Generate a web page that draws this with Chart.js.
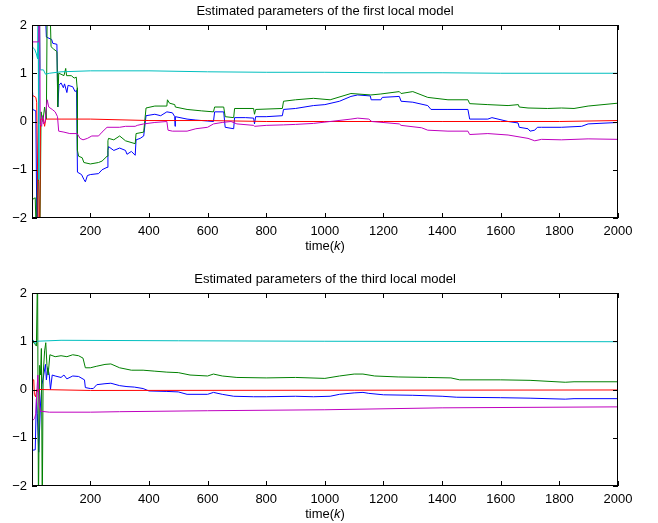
<!DOCTYPE html>
<html>
<head>
<meta charset="utf-8">
<script src="https://cdn.jsdelivr.net/npm/chart.js@4"></script>
<style>
  body { margin: 0; background: #fff; width: 658px; height: 523px; overflow: hidden; position: relative; }
  canvas { position: absolute; left: 0; }
  #top { top: 0; }
  #bottom { top: 268px; }
</style>
</head>
<body>
<canvas id="top" width="658" height="255"></canvas>
<canvas id="bottom" width="658" height="255"></canvas>
<script>
const xTicks = [200, 400, 600, 800, 1000, 1200, 1400, 1600, 1800, 2000];
const yTicks = [-2, -1, 0, 1, 2];

/* ===== first local model ===== */
const topBlueK = [1, 3, 14, 18, 22, 26, 45, 50, 68, 72, 86, 89, 93, 100, 108, 112, 120, 124, 140, 148, 153, 156, 170, 178, 183, 190, 200, 228, 240, 257, 260, 262, 280, 300, 320, 325, 340, 353, 356, 370, 382, 390, 420, 440, 461, 480, 488, 489, 490, 530, 560, 620, 624, 655, 660, 689, 692, 730, 757, 760, 764, 800, 855, 859, 900, 961, 1000, 1050, 1089, 1112, 1155, 1158, 1191, 1196, 1254, 1260, 1300, 1351, 1362, 1420, 1488, 1494, 1556, 1570, 1625, 1659, 1663, 1693, 1700, 1716, 1725, 1739, 1807, 1876, 1898, 2000];
const topBlueV = [0.6, 0.25, 0.22, -2.5, -1.0, 2.5, 2.5, 1.75, 1.7, 1.62, 1.6, 0.3, 0.75, 0.8, 0.7, 0.78, 0.6, 0.75, 0.72, 0.62, 0.65, -1.05, -1.1, -1.2, -1.25, -1.12, -1.1, -1.08, -1.0, -0.95, -0.6, -0.52, -0.6, -0.55, -0.6, -0.68, -0.62, -0.7, -0.38, -0.35, -0.3, 0.12, 0.15, 0.12, 0.2, 0.18, 0.1, -0.1, 0.1, 0.05, 0.03, 0.0, 0.2, 0.2, -0.12, -0.15, 0.08, 0.08, 0.07, -0.05, 0.1, 0.1, 0.12, 0.25, 0.27, 0.33, 0.35, 0.42, 0.52, 0.55, 0.53, 0.45, 0.45, 0.5, 0.52, 0.42, 0.4, 0.33, 0.25, 0.25, 0.25, 0.05, 0.05, 0.08, 0.0, -0.03, -0.12, -0.15, -0.2, -0.18, -0.12, -0.12, -0.12, -0.1, -0.05, -0.02];

const topGreenK = [1, 12, 16, 20, 24, 28, 32, 38, 44, 50, 53, 62, 66, 75, 86, 89, 92, 100, 110, 116, 119, 135, 145, 152, 155, 156, 160, 172, 178, 200, 228, 240, 257, 260, 262, 280, 300, 320, 353, 356, 382, 390, 420, 461, 463, 470, 488, 490, 530, 580, 620, 624, 655, 660, 689, 692, 757, 760, 764, 855, 859, 900, 961, 1018, 1089, 1157, 1191, 1254, 1260, 1300, 1351, 1420, 1488, 1494, 1556, 1625, 1660, 1663, 1693, 1760, 1807, 1850, 1898, 2000];
const topGreenV = [-1.62, -1.58, -2.5, -1.0, -1.25, -2.5, 0.2, 0.0, 0.3, 0.05, 2.5, 2.5, 1.55, 1.5, 1.45, 0.3, 1.0, 0.98, 0.95, 1.1, 0.95, 0.95, 0.9, 0.92, 0.7, -0.6, -0.72, -0.75, -0.85, -0.88, -0.85, -0.82, -0.72, -0.4, -0.35, -0.38, -0.3, -0.4, -0.46, -0.25, -0.22, 0.28, 0.32, 0.32, 0.45, 0.38, 0.35, 0.3, 0.25, 0.22, 0.2, 0.3, 0.3, 0.1, 0.08, 0.27, 0.27, 0.15, 0.25, 0.27, 0.42, 0.45, 0.48, 0.45, 0.58, 0.55, 0.57, 0.62, 0.58, 0.62, 0.5, 0.45, 0.45, 0.37, 0.35, 0.33, 0.35, 0.3, 0.28, 0.27, 0.28, 0.27, 0.32, 0.38];

const topRedK = [1, 14, 17, 20, 23, 27, 30, 40, 44, 48, 100, 200, 400, 600, 800, 1000, 1200, 1400, 1600, 1800, 2000];
const topRedV = [0.55, 0.5, 0.4, -1.0, -2.5, -2.5, 0.05, 0.05, -0.1, 0.05, 0.05, 0.05, 0.02, 0.02, 0.0, 0.0, 0.0, 0.0, 0.0, 0.0, 0.02];

const topCyanK = [1, 10, 16, 20, 22, 24, 26, 29, 40, 47, 60, 100, 200, 400, 600, 800, 1000, 1200, 1400, 1600, 2000];
const topCyanV = [1.55, 1.5, 1.4, 1.3, 2.5, -1.2, 2.5, 1.07, 1.07, 0.98, 1.0, 1.03, 1.05, 1.05, 1.03, 1.02, 1.02, 1.01, 1.01, 1.0, 1.0];

const topMagentaK = [1, 3, 22, 24, 27, 29, 34, 37, 40, 46, 50, 53, 58, 70, 80, 88, 92, 110, 130, 155, 165, 175, 190, 205, 228, 240, 257, 300, 320, 353, 360, 382, 420, 461, 465, 480, 530, 560, 600, 620, 650, 680, 700, 757, 760, 800, 859, 900, 961, 1018, 1089, 1112, 1150, 1160, 1254, 1260, 1330, 1351, 1420, 1488, 1494, 1556, 1625, 1693, 1716, 1739, 1807, 1898, 2000];
const topMagentaV = [1.3, 1.65, 1.65, 2.5, 2.5, -0.05, -0.1, 0.12, -0.05, 0.0, 0.3, 0.45, 0.3, 0.25, 0.2, 0.1, -0.2, -0.22, -0.25, -0.25, -0.35, -0.38, -0.35, -0.3, -0.3, -0.22, -0.12, -0.12, -0.1, -0.1, -0.08, -0.05, -0.02, 0.0, -0.18, -0.2, -0.2, -0.15, -0.12, -0.05, -0.02, 0.0, -0.05, -0.08, -0.1, -0.08, -0.07, -0.06, -0.04, 0.0, 0.05, 0.07, 0.05, 0.0, -0.05, -0.08, -0.13, -0.18, -0.2, -0.2, -0.27, -0.25, -0.28, -0.35, -0.4, -0.37, -0.38, -0.36, -0.37];

/* ===== third local model ===== */
const botBlueK = [1, 12, 16, 19, 24, 30, 35, 41, 47, 50, 55, 60, 64, 70, 80, 100, 110, 120, 140, 160, 180, 183, 200, 210, 222, 250, 270, 300, 325, 350, 380, 400, 461, 500, 530, 600, 620, 650, 689, 757, 800, 900, 961, 1018, 1050, 1100, 1130, 1150, 1200, 1300, 1400, 1450, 1600, 1700, 1820, 1850, 2000];
const botBlueV = [-1.26, -1.25, -0.2, -0.5, -1.3, -0.3, 0.1, 0.3, 0.52, 0.2, 0.45, 0.3, 0.0, 0.3, 0.28, 0.25, 0.3, 0.22, 0.28, 0.27, 0.2, 0.04, 0.02, 0.02, 0.1, 0.12, 0.13, 0.08, 0.06, 0.05, 0.02, -0.03, -0.04, -0.05, -0.1, -0.1, -0.06, -0.1, -0.14, -0.15, -0.15, -0.14, -0.15, -0.14, -0.1, -0.07, -0.06, -0.08, -0.11, -0.12, -0.14, -0.16, -0.17, -0.18, -0.2, -0.19, -0.19];

const botGreenK = [1, 10, 16, 20, 23, 27, 30, 33, 36, 39, 44, 48, 52, 56, 62, 80, 100, 120, 140, 160, 175, 183, 200, 220, 250, 270, 300, 340, 380, 420, 461, 500, 540, 600, 620, 650, 700, 800, 900, 1000, 1050, 1100, 1130, 1170, 1250, 1350, 1430, 1460, 1600, 1700, 1820, 1850, 2000];
const botGreenV = [1.0, 0.95, 0.9, 2.5, -2.5, 0.5, 0.3, 0.85, -2.5, 0.3, 0.8, 0.97, 0.5, 0.3, 0.72, 0.68, 0.7, 0.68, 0.72, 0.7, 0.65, 0.45, 0.45, 0.48, 0.52, 0.53, 0.45, 0.4, 0.4, 0.38, 0.36, 0.35, 0.3, 0.28, 0.32, 0.28, 0.25, 0.24, 0.25, 0.23, 0.28, 0.32, 0.32, 0.28, 0.26, 0.25, 0.24, 0.2, 0.2, 0.19, 0.15, 0.16, 0.16];

const botRedK = [1, 2, 7, 9, 13, 18, 22, 26, 200, 2000];
const botRedV = [3, 0.2, 0.2, -0.1, -0.15, 0.0, -0.05, 0.0, -0.02, -0.01];

const botCyanK = [1, 8, 12, 17, 100, 500, 1000, 2000];
const botCyanV = [1.05, 1.0, 0.95, 1.0, 1.02, 1.01, 1.0, 0.99];

const botMagentaK = [1, 2, 10, 14, 18, 21, 25, 30, 60, 200, 300, 600, 1000, 1400, 2000];
const botMagentaV = [-3, -0.65, -0.6, -0.5, 0.0, 0.3, -0.3, -0.45, -0.47, -0.47, -0.46, -0.44, -0.42, -0.38, -0.36];

const FONT = '"Liberation Sans", Arial, Helvetica, sans-serif';
const FS = 13;

function pts(k, v) {
  return k.map((x, i) => ({ x: x, y: v[i] }));
}

function series(k, v, color) {
  return {
    data: pts(k, v),
    borderColor: color,
    borderWidth: 1,
    pointRadius: 0,
    tension: 0,
    fill: false
  };
}

// box, inward ticks, title and xlabel, matlab style
const matlabFrame = {
  id: "matlabFrame",
  afterDatasetsDraw(chart, args, opts) {
    const { ctx, chartArea: a, scales: { x, y } } = chart;
    ctx.save();
    ctx.strokeStyle = "#000";
    ctx.lineWidth = 1;
    ctx.strokeRect(a.left + 0.5, a.top + 0.5, a.right - a.left - 1, a.bottom - a.top - 1);
    ctx.beginPath();
    x.ticks.forEach(t => {
      const px = Math.round(x.getPixelForValue(t.value)) + 0.5;
      ctx.moveTo(px, a.bottom); ctx.lineTo(px, a.bottom - 5);
      ctx.moveTo(px, a.top); ctx.lineTo(px, a.top + 5);
    });
    y.ticks.forEach(t => {
      const py = Math.round(y.getPixelForValue(t.value)) + 0.5;
      ctx.moveTo(a.left, py); ctx.lineTo(a.left + 5, py);
      ctx.moveTo(a.right, py); ctx.lineTo(a.right - 5, py);
    });
    ctx.stroke();

    ctx.fillStyle = "#000";
    ctx.textBaseline = "middle";
    ctx.textAlign = "center";
    ctx.font = FS + "px " + FONT;
    const cx = (a.left + a.right) / 2;
    ctx.fillText(opts.title, cx, 11);

    // time(k) with italic k
    ctx.textAlign = "left";
    const normal = FS + "px " + FONT, italic = "italic " + FS + "px " + FONT;
    ctx.font = normal;
    const w1 = ctx.measureText("time(").width, w3 = ctx.measureText(")").width;
    ctx.font = italic;
    const w2 = ctx.measureText("k").width;
    let sx = cx - (w1 + w2 + w3) / 2;
    const ly = 246;
    ctx.font = normal; ctx.fillText("time(", sx, ly); sx += w1;
    ctx.font = italic; ctx.fillText("k", sx, ly); sx += w2;
    ctx.font = normal; ctx.fillText(")", sx, ly);
    ctx.restore();
  }
};

function makeChart(id, title, sets) {
  new Chart(document.getElementById(id), {
    type: "line",
    data: {
      datasets: [
        series(sets[4][0], sets[4][1], "#bf00bf"),
        series(sets[3][0], sets[3][1], "#00bfbf"),
        series(sets[2][0], sets[2][1], "#ff0000"),
        series(sets[1][0], sets[1][1], "#008000"),
        series(sets[0][0], sets[0][1], "#0000ff")
      ]
    },
    options: {
      responsive: false,
      animation: false,
      layout: { padding: { top: 25, right: 40, left: 0, bottom: 0 } },
      plugins: {
        legend: { display: false },
        tooltip: { enabled: false },
        matlabFrame: { title: title }
      },
      scales: {
        x: {
          type: "linear",
          min: 1,
          max: 2000,
          afterBuildTicks: s => { s.ticks = xTicks.map(v => ({ value: v })); },
          afterFit: s => { s.height = 37; },
          grid: { display: false, drawTicks: false },
          border: { display: false },
          ticks: {
            color: "#000",
            font: { family: FONT, size: FS },
            padding: 6,
            maxRotation: 0,
            autoSkip: false,
            callback: v => String(v)
          }
        },
        y: {
          min: -2,
          max: 2,
          afterBuildTicks: s => { s.ticks = yTicks.map(v => ({ value: v })); },
          afterFit: s => { s.width = 32; },
          grid: { display: false, drawTicks: false },
          border: { display: false },
          ticks: {
            color: "#000",
            font: { family: FONT, size: FS },
            padding: 5,
            callback: v => (v < 0 ? "\u2212" + Math.abs(v) : String(v))
          }
        }
      }
    },
    plugins: [matlabFrame]
  });
}

makeChart("top", "Estimated parameters of the first local model", [
  [topBlueK, topBlueV], [topGreenK, topGreenV], [topRedK, topRedV],
  [topCyanK, topCyanV], [topMagentaK, topMagentaV]
]);

makeChart("bottom", "Estimated parameters of the third local model", [
  [botBlueK, botBlueV], [botGreenK, botGreenV], [botRedK, botRedV],
  [botCyanK, botCyanV], [botMagentaK, botMagentaV]
]);
</script>
</body>
</html>
